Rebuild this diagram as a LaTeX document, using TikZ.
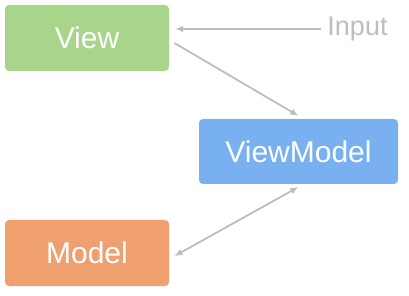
\documentclass[tikz,border=0pt]{standalone}
\usepackage{fontspec}
\setmainfont{Liberation Sans}
\usepackage{tikz}
\usetikzlibrary{positioning, arrows.meta, calc}
\definecolor{viewgreen}{HTML}{A8D58A}
\definecolor{vmblue}{HTML}{78B0F0}
\definecolor{modelorange}{HTML}{EFA06E}
\definecolor{arrowgray}{HTML}{BDBDBD}
\definecolor{inputgray}{HTML}{BEBEBE}

\begin{document}
\begin{tikzpicture}[
  x=1pt, y=-1pt,
  part/.style={rounded corners=4pt, minimum width=164pt,
    minimum height=66pt, align=center, text=white,
    font=\fontsize{30}{34}\selectfont},
  flow/.style={-{Latex[length=8pt, width=7pt]}, line width=1.8pt,
    color=arrowgray, shorten >=6pt, shorten <=6pt},
]
  \useasboundingbox (0,0) rectangle (409,296);

  % Boxes
  \node[part, fill=viewgreen] (view) at (87,38) {View};
  \node[part, fill=vmblue, minimum width=199pt, minimum height=65pt]
    (vm) at (298.5,151.5) {ViewModel};
  \node[part, fill=modelorange] (model) at (87,253) {Model};

  % Input label
  \node[font=\fontsize{27}{30}\selectfont, text=inputgray,
    inner sep=2pt] (input) at (357.5,29) {Input};

  % Connectors
  \draw[flow, shorten <=4pt] (input.west) -- (view.east |- input.west);
  \draw[flow] ($(view.east)+(0,2)$) -- ($(vm.north)+(5,0)$);
  \draw[flow, {Latex[length=8pt, width=7pt]}-{Latex[length=8pt, width=7pt]}]
    ($(vm.south)+(5,0)$) -- ($(model.east)+(0,6)$);
\end{tikzpicture}
\end{document}
